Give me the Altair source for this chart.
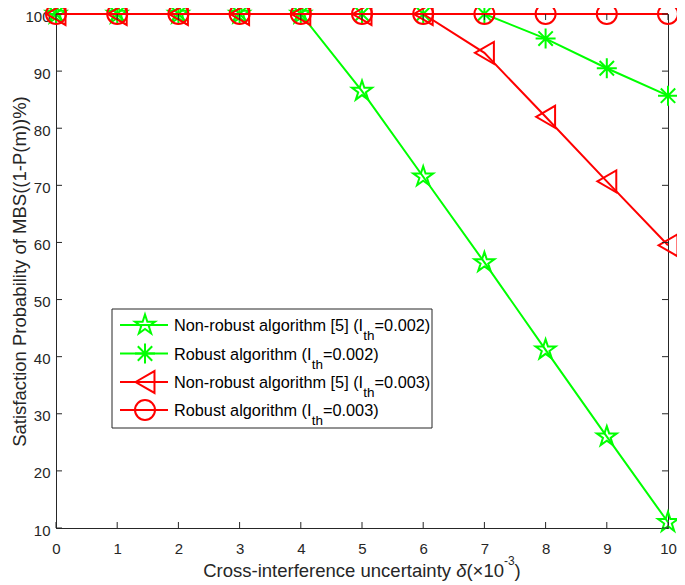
import altair as alt
import pandas as pd

# ---------------- data ----------------
x_vals = [0, 1, 2, 3, 4, 5, 6, 7, 8, 9, 10]
nonrobust_002 = [100, 100, 100, 100, 100, 86.5, 71.5, 56.5, 41.2, 26.0, 11.0]
robust_002 = [100, 100, 100, 100, 100, 100, 100, 100, 95.7, 90.5, 85.7]
nonrobust_003 = [100, 100, 100, 100, 100, 100, 100, 93.2, 82.0, 70.7, 59.5]
robust_003 = [100, 100, 100, 100, 100, 100, 100, 100, 100, 100, 100]

legend_main = ["Non-robust algorithm [5] (I", "Robust algorithm (I",
               "Non-robust algorithm [5] (I", "Robust algorithm (I"]
legend_sub = ["th", "th", "th", "th"]
legend_tail = ["=0.002)", "=0.002)", "=0.003)", "=0.003)"]

x_ticks = [0, 1, 2, 3, 4, 5, 6, 7, 8, 9, 10]
y_ticks = [10, 20, 30, 40, 50, 60, 70, 80, 90, 100]

y_title = "Satisfaction Probability of MBS((1-P(m))%)"
x_title_parts = ["Cross-interference uncertainty ", "δ", "(×10", "-3", ")"]

# ---------------- styling ----------------
FONT = "Liberation Sans"
AXC = "#262626"
GREEN = "#00FF00"
RED = "#FF0000"
W, H = 612, 514

STAR = ("M0,-1L0.2245,-0.309L0.951,-0.309L0.363,0.118L0.588,0.809L0,0.382"
        "L-0.588,0.809L-0.363,0.118L-0.951,-0.309L-0.2245,-0.309Z")
AST = "M0,-1L0,1M-1,0L1,0M-0.72,-0.72L0.72,0.72M-0.72,0.72L0.72,-0.72"

AW = {' ': 278, '(': 333, ')': 333, '-': 333, '.': 278, '=': 584, '[': 278, ']': 278,
      '×': 584, 'δ': 556, 'C': 722, 'I': 278, 'N': 722, 'R': 722, 'a': 556, 'b': 556,
      'c': 500, 'e': 556, 'f': 278, 'g': 556, 'h': 556, 'i': 222, 'l': 222, 'm': 833,
      'n': 556, 'o': 556, 'r': 333, 's': 500, 't': 278, 'u': 556, 'y': 500}


def tw(s, size):
    return sum(AW.get(c, 556) for c in s) * size / 1000.0


xscale = alt.Scale(domain=[0, 10], nice=False, zero=False)
yscale = alt.Scale(domain=[10, 100], nice=False, zero=False)

xaxis = alt.Axis(values=x_ticks, title=None, ticks=False, tickSize=0, labelPadding=13,
                 labelFontSize=15, labelFont=FONT, labelColor=AXC, domainColor=AXC,
                 grid=False, labelFlush=False, labelOverlap=False)
yaxis = alt.Axis(values=y_ticks, title=y_title, ticks=False, tickSize=0, labelPadding=6,
                 labelFontSize=15, labelFont=FONT, labelColor=AXC, domainColor=AXC,
                 grid=False, labelFlush=False, labelOverlap=False, labelOffset=2,
                 titleFont=FONT, titleFontSize=18.5, titleFontWeight="normal",
                 titleColor=AXC, titleAngle=270, titleBaseline="alphabetic",
                 titleAlign="center", titleX=-31, titleY=H / 2)

XE = alt.X("x:Q", scale=xscale, axis=xaxis)
YE = alt.Y("y:Q", scale=yscale, axis=yaxis)

series = [
    (nonrobust_002, GREEN, STAR, 440),
    (robust_002, GREEN, AST, 400),
    (nonrobust_003, RED, "triangle-left", 480),
    (robust_003, RED, "circle", 400),
]

layers = []
for vals, col, shp, sz in series:
    df = pd.DataFrame({"x": x_vals, "y": vals})
    layers.append(alt.Chart(df).mark_line(color=col, strokeWidth=2).encode(x=XE, y=YE))
    layers.append(alt.Chart(df).mark_point(shape=shp, size=sz, filled=False, color=col,
                                           strokeWidth=2, opacity=1).encode(x=XE, y=YE))

# inward ticks on all four sides
xt = pd.DataFrame({"x": x_ticks})
yt = pd.DataFrame({"y": y_ticks})
layers.append(alt.Chart(xt).mark_rule(color=AXC, strokeWidth=1).encode(
    x=XE, y=alt.value(H), y2=alt.value(H - 6)))
layers.append(alt.Chart(xt).mark_rule(color=AXC, strokeWidth=1).encode(
    x=XE, y=alt.value(0), y2=alt.value(6)))
layers.append(alt.Chart(yt).mark_rule(color=AXC, strokeWidth=1).encode(
    y=YE, x=alt.value(0), x2=alt.value(6)))
layers.append(alt.Chart(yt).mark_rule(color=AXC, strokeWidth=1).encode(
    y=YE, x=alt.value(W - 6), x2=alt.value(W)))

dummy = pd.DataFrame({"k": [0]})

# x-axis title with italic delta and superscript
sizes = [18.5, 18.5, 18.5, 12, 18.5]
styles = ["normal", "italic", "normal", "normal", "normal"]
widths = [tw(p, s) for p, s in zip(x_title_parts, sizes)]
total = sum(widths)
cx = W / 2 - total / 2
base = H + 49
for p, s, st, w in zip(x_title_parts, sizes, styles, widths):
    yy = base - 12 if s < 15 else base
    layers.append(alt.Chart(dummy).mark_text(
        text=p, font=FONT, fontSize=s, fontStyle=st, color=AXC, align="left",
        baseline="alphabetic").encode(x=alt.value(cx), y=alt.value(yy)))
    cx += w

# legend
bx0, bx1, by0, by1 = 56, 376, 295, 414
LF, SF = 16.3, 13.5
layers.append(alt.Chart(dummy).mark_rect(fill="white", stroke=AXC, strokeWidth=1).encode(
    x=alt.value(bx0), x2=alt.value(bx1), y=alt.value(by0), y2=alt.value(by1)))
row_y = [311, 339.5, 368, 396]
for i, (vals, col, shp, sz) in enumerate(series):
    ry = row_y[i]
    layers.append(alt.Chart(dummy).mark_rule(color=col, strokeWidth=2).encode(
        x=alt.value(64), x2=alt.value(112), y=alt.value(ry)))
    layers.append(alt.Chart(dummy).mark_point(shape=shp, size=sz, filled=False, color=col,
                                              strokeWidth=2, opacity=1).encode(
        x=alt.value(89), y=alt.value(ry)))
    tx = 118
    bl = ry + 6
    layers.append(alt.Chart(dummy).mark_text(
        text=legend_main[i], font=FONT, fontSize=LF, color="black", align="left",
        baseline="alphabetic").encode(x=alt.value(tx), y=alt.value(bl)))
    tx += tw(legend_main[i], LF)
    layers.append(alt.Chart(dummy).mark_text(
        text=legend_sub[i], font=FONT, fontSize=SF, color="black", align="left",
        baseline="alphabetic").encode(x=alt.value(tx), y=alt.value(bl + 9)))
    tx += tw(legend_sub[i], SF)
    layers.append(alt.Chart(dummy).mark_text(
        text=legend_tail[i], font=FONT, fontSize=LF, color="black", align="left",
        baseline="alphabetic").encode(x=alt.value(tx), y=alt.value(bl)))

chart = alt.layer(*layers).properties(
    width=W, height=H, autosize="none",
    padding={"left": 48, "top": 6, "right": 9, "bottom": 57},
    background="white",
).configure_view(stroke=AXC, strokeWidth=1)

chart.save("out.html", embed_options={"renderer": "svg", "actions": False})
